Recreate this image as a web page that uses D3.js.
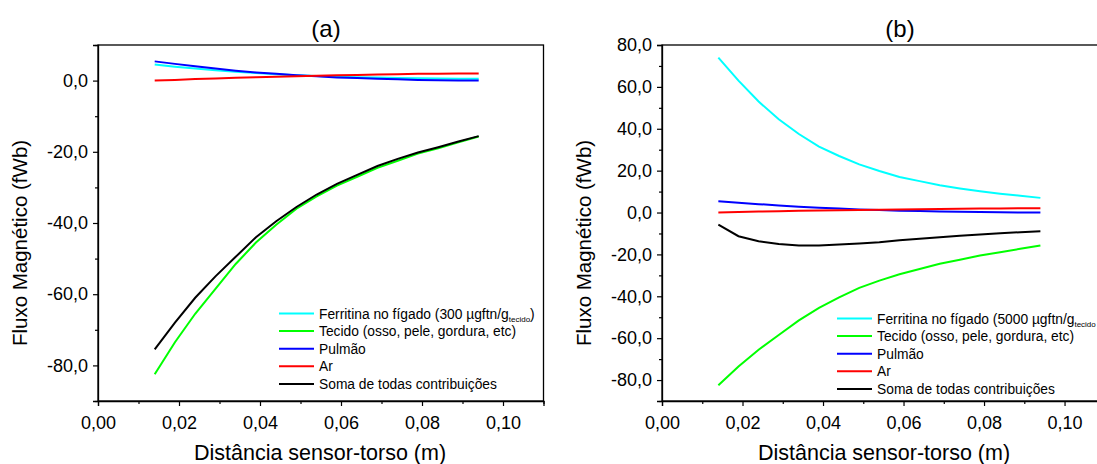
<!DOCTYPE html>
<html>
<head>
<meta charset="utf-8">
<script src="https://cdn.jsdelivr.net/npm/d3@7"></script>
<style>
  body { margin: 0; background: #fff; }
  svg { display: block; font-family: "Liberation Sans", Arial, sans-serif; }
</style>
</head>
<body>
<div id="my_chart"></div>
<script>
// distances sensor-torso (m)
var dist = [0.014, 0.019, 0.024, 0.029, 0.034, 0.039, 0.044, 0.049, 0.054,
            0.059, 0.064, 0.069, 0.074, 0.079, 0.084, 0.089, 0.094];

// panel (a) - 300 ugftn/g
var ferritinaA = [4.5, 3.9, 3.4, 2.9, 2.5, 2.1, 1.8, 1.5, 1.3, 1.1, 0.95, 0.85, 0.75, 0.65, 0.6, 0.55, 0.5];
var tecido     = [-82.5, -73.5, -65.5, -58.5, -51.5, -45.5, -40.5, -36, -32.5, -29.5, -27, -24.5, -22.5, -20.5, -19, -17.3, -15.7];
var pulmao     = [5.4, 4.7, 4.0, 3.4, 2.8, 2.3, 1.9, 1.5, 1.2, 0.9, 0.7, 0.5, 0.35, 0.2, 0.1, 0.05, 0];
var ar         = [0, 0.2, 0.45, 0.6, 0.8, 0.95, 1.1, 1.2, 1.35, 1.5, 1.6, 1.7, 1.8, 1.9, 1.95, 2.0, 2.0];
var somaA      = [-75.5, -68, -61, -55, -49.5, -44, -39.5, -35.5, -32, -29, -26.5, -24, -22, -20.2, -18.7, -17.1, -15.6];

// panel (b) - 5000 ugftn/g
var ferritinaB = [74, 63, 53, 44.5, 37.5, 31.5, 27, 23, 19.8, 17, 15, 13, 11.5, 10.2, 9, 8, 7];
var somaB      = [-5.8, -11.3, -13.7, -15, -15.7, -15.7, -15.3, -14.8, -14.2, -13.2, -12.5, -11.8, -11.1, -10.5, -9.9, -9.4, -8.9];

var xTicks  = [0, 0.02, 0.04, 0.06, 0.08, 0.10];
var yTicksA = [-80, -60, -40, -20, 0];
var yTicksB = [-80, -60, -40, -20, 0, 20, 40, 60, 80];

var legendNames = ["Tecido (osso, pele, gordura, etc)", "Pulmão", "Ar", "Soma de todas contribuições"];
var colors = ["#00ffff", "#00ff00", "#0000ff", "#ff0000", "#000000"];

var locale = d3.formatLocale({decimal: ",", thousands: ".", grouping: [3], currency: ["", ""], minus: "-"});
var fx = locale.format(".2f"), fy = locale.format(".1f");

var W = 1097, H = 464;
var svg = d3.select("#my_chart").append("svg")
    .attr("width", W).attr("height", H);

var panels = [
  {title: "(a)", left: 98, right: 543.5, ydom: [-90, 10], yt: yTicksA, titleX: 326,
   series: [ferritinaA, tecido, pulmao, ar, somaA], dose: "300",
   legX: 279, legY: 313.5, ytitleX: 27},
  {title: "(b)", left: 662, right: 1104.8, ydom: [-90, 80], yt: yTicksB, titleX: 900,
   series: [ferritinaB, tecido, pulmao, ar, somaB], dose: "5000",
   legX: 837, legY: 318.5, ytitleX: 591}
];
var plotTop = 45, plotBottom = 401;

panels.forEach(function(p) {
  var x = d3.scaleLinear().domain([0, 0.11]).range([p.left, p.right]);
  var y = d3.scaleLinear().domain(p.ydom).range([plotBottom, plotTop]);
  var g = svg.append("g");

  // frame
  g.append("rect")
    .attr("x", p.left).attr("y", plotTop)
    .attr("width", p.right - p.left).attr("height", plotBottom - plotTop)
    .attr("fill", "none").attr("stroke", "#000").attr("stroke-width", 1.3);

  // X axis
  var minX = [0.01, 0.03, 0.05, 0.07, 0.09, 0.11];
  g.append("g").attr("transform", "translate(0," + plotBottom + ")")
    .call(d3.axisBottom(x).tickValues(minX).tickSize(3).tickFormat(""))
    .call(function(s) { s.select(".domain").remove(); });
  var ax = g.append("g").attr("transform", "translate(0," + plotBottom + ")")
    .call(d3.axisBottom(x).tickValues(xTicks).tickSize(5).tickPadding(10).tickFormat(fx));
  ax.select(".domain").attr("stroke-width", 1.3);
  ax.selectAll("text").attr("font-size", 18).attr("fill", "#000").attr("font-family", "Liberation Sans, Arial, sans-serif");

  // Y axis
  var minY = d3.range(p.ydom[0], p.ydom[1] + 1, 10).filter(function(v) { return v % 20 !== 0; });
  g.append("g").attr("transform", "translate(" + p.left + ",0)")
    .call(d3.axisLeft(y).tickValues(minY).tickSize(3).tickFormat(""))
    .call(function(s) { s.select(".domain").remove(); });
  var ay = g.append("g").attr("transform", "translate(" + p.left + ",0)")
    .call(d3.axisLeft(y).tickValues(p.yt).tickSize(5).tickPadding(5).tickFormat(fy));
  ay.select(".domain").attr("stroke-width", 1.3);
  ay.selectAll("text").attr("font-size", 18).attr("fill", "#000").attr("font-family", "Liberation Sans, Arial, sans-serif");
  g.selectAll(".tick line").attr("stroke-width", 1.2);

  // titles
  g.append("text").attr("x", p.titleX).attr("y", 37).attr("text-anchor", "middle")
    .attr("font-size", 24).text(p.title);
  g.append("text").attr("x", p.left + 222).attr("y", 460)
    .attr("text-anchor", "middle").attr("font-size", 21.5)
    .text("Distância sensor-torso (m)");
  g.append("text")
    .attr("transform", "translate(" + p.ytitleX + "," + 243 + ") rotate(-90)")
    .attr("text-anchor", "middle").attr("font-size", 20.5)
    .text("Fluxo Magnético (fWb)");

  // lines
  var line = d3.line()
    .x(function(d) { return x(d[0]); })
    .y(function(d) { return y(d[1]); });
  p.series.forEach(function(vals, i) {
    g.append("path")
      .datum(dist.map(function(d, j) { return [d, vals[j]]; }))
      .attr("fill", "none")
      .attr("stroke", colors[i])
      .attr("stroke-width", 2)
      .attr("d", line);
  });

  // legend
  var names = ["Ferritina no fígado (" + p.dose + " \u00b5gftn/g"].concat(legendNames);
  names.forEach(function(n, i) {
    var yy = p.legY + i * 17.6;
    g.append("line").attr("x1", p.legX).attr("x2", p.legX + 35)
      .attr("y1", yy).attr("y2", yy).attr("stroke", colors[i]).attr("stroke-width", 2);
    var t = g.append("text").attr("x", p.legX + 40).attr("y", yy + 5).attr("font-size", 13.8);
    t.append("tspan").text(n);
    if (i === 0) {
      t.append("tspan").attr("font-size", 8).attr("dy", 3).text("tecido");
      if (p.dose === "300") t.append("tspan").attr("dy", -3).text(")");
    }
  });
});
</script>
</body>
</html>
